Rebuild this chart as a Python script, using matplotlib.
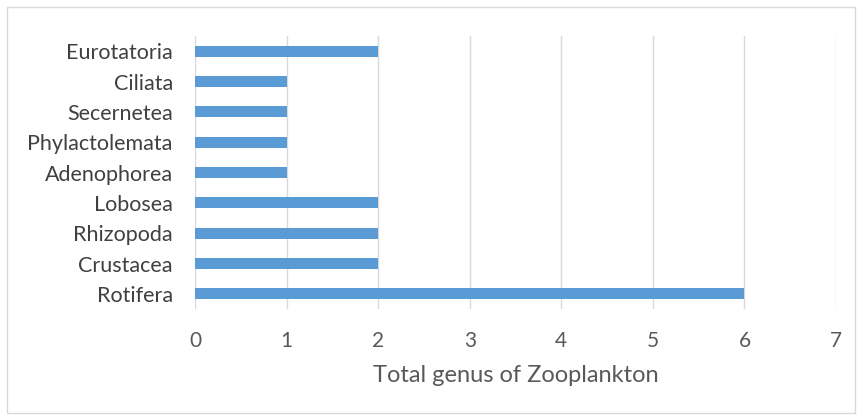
import matplotlib.pyplot as plt
from matplotlib.patches import Rectangle

categories = ["Rotifera", "Crustacea", "Rhizopoda", "Lobosea", "Adenophorea",
              "Phylactolemata", "Secernetea", "Ciliata", "Eurotatoria"]
genus_counts = [6, 2, 2, 2, 1, 1, 1, 1, 2]
x_ticks = [0, 1, 2, 3, 4, 5, 6, 7]

BAR = "#5b9bd5"
GRID = "#d9d9d9"
TEXT = "#595959"

plt.rcParams["font.family"] = ["Lato", "DejaVu Sans"]

fig = plt.figure(figsize=(8.61, 4.19), dpi=100)
ax = fig.add_axes([0.2265, 0.2625, 0.7445, 0.6515])

ax.barh(categories, genus_counts, height=0.37, color=BAR, zorder=3)

ax.set_xlim(0, 7)
ax.set_ylim(-0.5, len(categories) - 0.5)
ax.set_xticks(x_ticks)
ax.grid(axis="x", color=GRID, lw=1.0, zorder=0)
for s in ax.spines.values():
    s.set_visible(False)
ax.tick_params(axis="both", length=0, colors=TEXT)
ax.tick_params(axis="x", pad=16, labelsize=15)
ax.tick_params(axis="y", pad=16, labelsize=15.5)
for lbl in ax.get_yticklabels():
    lbl.set_color("#404040")
ax.set_xlabel("Total genus of Zooplankton", fontsize=17, color=TEXT, labelpad=10)

# light frame round the whole chart area
fig.patches.append(Rectangle((7 / 861, 6 / 419), 848 / 861, 406 / 419,
                             transform=fig.transFigure, fill=False,
                             edgecolor=GRID, lw=1.0))

fig.savefig("out.png", dpi=100)
